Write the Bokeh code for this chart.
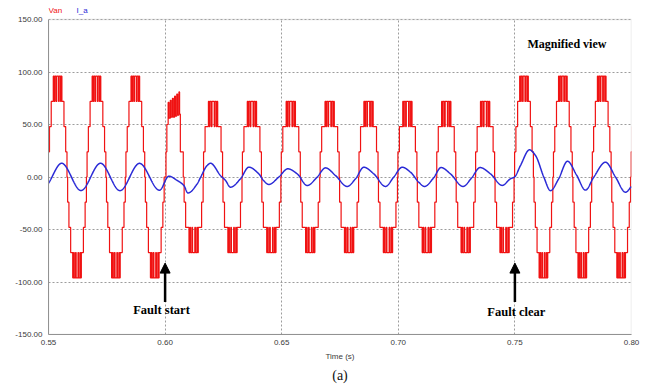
import numpy as np
from bokeh.plotting import figure
from bokeh.models import Label, Arrow, NormalHead, PrintfTickFormatter, BoxAnnotation, Title
from bokeh.embed import file_html
from bokeh.resources import INLINE

# ---- axes ---------------------------------------------------------------
X_TICKS = [0.55, 0.60, 0.65, 0.70, 0.75, 0.80]
Y_TICKS = [-150, -100, -50, 0, 50, 100, 150]

# ---- phase voltage Van (cascaded H-bridge, 24 V per cell) ---------------
F0 = 60.0            # fundamental, Hz
PEAK_T0 = 0.5539     # centre of the first positive half-cycle, s
FAULT_ON = 0.60
FAULT_OFF = 0.75

# healthy operation: (switching angle in deg, level reached) and top PWM band
NORMAL_STEPS = [(3, 24), (15, 48), (31, 72)]
NORMAL_BAND = (72, 96)
NORMAL_BAND_EDGES = [50, 58, 64, 76, 82, 99, 105, 118, 123, 130]

# one cell bypassed during the fault
FAULT_STEPS = [(2, 24), (16, 48)]
FAULT_BAND = (48, 72)
FAULT_BAND_EDGES = [47, 55, 61, 74, 80, 101, 107, 120, 126, 133]

# first half-cycle after the fault: (angle in deg, level reached)
ONSET_EVENTS = [(14, 24), (22, 50), (34, 71), (42, 56), (54, 73), (62, 57),
                (74, 75), (82, 57), (94, 77), (102, 58), (114, 79), (122, 59),
                (134, 81), (140, 60), (147, 24), (174, 0)]

# ---- phase current I_a : read-off points (time s, current A) -----------
I_T = [0.55000, 0.55566, 0.56394, 0.57230, 0.58066, 0.58902, 0.59760,
       0.60159, 0.60519, 0.60802, 0.60982, 0.61376, 0.61539, 0.61805,
       0.61947, 0.62376, 0.62590, 0.62804, 0.63233, 0.63589, 0.64018,
       0.64220, 0.64447, 0.64876, 0.65262, 0.65665, 0.66094, 0.66522,
       0.66878, 0.67307, 0.67809, 0.68165, 0.68521, 0.68950, 0.69451,
       0.69807, 0.70167, 0.70523, 0.70879, 0.71123, 0.71509, 0.71831,
       0.72238, 0.72775, 0.73139, 0.73504, 0.73954, 0.74456, 0.74811,
       0.74983, 0.75240, 0.75626, 0.75883, 0.76239, 0.76527, 0.76870,
       0.77256, 0.77642, 0.78028, 0.78384, 0.78885, 0.79314, 0.79743,
       0.80000]
I_A = [-6.0, 13.1, -12.9, 13.1, -13.0, 13.0, -12.6,
       0.8, -3.3, -8.0, -15.2, -6.5, 0.5, 11.0,
       13.1, 1.4, -3.3, -9.7, -1.7, 9.4, 3.0,
       -3.3, -7.1, 0.0, 7.8, 3.0, -8.1, 0.0,
       8.7, 1.4, -9.0, -1.7, 9.3, 3.0, -9.0,
       0.0, 9.3, 4.6, -5.0, -9.0, -1.0, 9.0,
       3.0, -9.0, -1.0, 9.0, 3.0, -8.0, -1.7,
       0.0, 11.0, 25.9, 20.5, 0.0, -13.0, -2.0,
       15.0, 2.0, -12.5, 0.0, 14.1, 0.0, -14.5,
       -9.0]

RED = "#f01212"
BLUE = "#2a2ad6"
FRAME_GREY = "#b4b4b4"


def lobe_events(steps, band, edges):
    """Switching events of one half-cycle: rising stairs, PWM band, falling stairs."""
    ev = list(steps)
    lo, hi = band
    for i, a in enumerate(edges):
        ev.append((a, hi if i % 2 == 0 else lo))
    below = [0] + [lev for _, lev in steps[:-1]]
    for (a, _), b in zip(reversed(steps), reversed(below)):
        ev.append((180 - a, b))
    return ev


def build_voltage():
    period = 1.0 / F0
    ts, vs = [0.54], [0.0]
    level = 0.0
    onset_done = False
    for k in range(-2, 34):
        tc = PEAK_T0 + k * period / 2
        z0 = tc - period / 4
        sign = 1 if k % 2 == 0 else -1
        if FAULT_ON < tc < FAULT_OFF:
            if not onset_done:
                ev = ONSET_EVENTS
                onset_done = True
            else:
                ev = lobe_events(FAULT_STEPS, FAULT_BAND, FAULT_BAND_EDGES)
        else:
            ev = lobe_events(NORMAL_STEPS, NORMAL_BAND, NORMAL_BAND_EDGES)
        for ang, lev in ev:
            t = z0 + ang / 360.0 * period
            ts += [t, t]
            vs += [level, sign * lev]
            level = sign * lev
    return np.array(ts), np.array(vs)


def smooth_curve(x, y, xs):
    """Monotone cubic (Fritsch-Carlson) curve through the given points."""
    x = np.asarray(x, float)
    y = np.asarray(y, float)
    h = np.diff(x)
    d = np.diff(y) / h
    m = np.zeros_like(y)
    for i in range(1, len(y) - 1):
        if d[i - 1] * d[i] > 0:
            w1 = 2 * h[i] + h[i - 1]
            w2 = h[i] + 2 * h[i - 1]
            m[i] = (w1 + w2) / (w1 / d[i - 1] + w2 / d[i])
    m[0], m[-1] = d[0], d[-1]
    idx = np.clip(np.searchsorted(x, xs) - 1, 0, len(h) - 1)
    s = (xs - x[idx]) / h[idx]
    h00 = 2 * s**3 - 3 * s**2 + 1
    h10 = s**3 - 2 * s**2 + s
    h01 = -2 * s**3 + 3 * s**2
    h11 = s**3 - s**2
    return h00 * y[idx] + h10 * h[idx] * m[idx] + h01 * y[idx + 1] + h11 * h[idx] * m[idx + 1]


van_t, van_v = build_voltage()
ia_t = np.linspace(I_T[0], I_T[-1], 2500)
ia_v = smooth_curve(I_T, I_A, ia_t)

# layout: the plotting box spans y = -150..150 between canvas rows 19 and 334;
# the frame reaches a little higher so the trace names fit above the box
W, H = 649, 389
LEFT, RIGHT, BOTTOM = 48, 18, 55
TOP = 2
PX_PER_UNIT = 315.0 / 300.0
Y_TOP = 150 + (19 - TOP) / PX_PER_UNIT

p = figure(width=W, height=H, x_range=(0.55, 0.80), y_range=(-150, Y_TOP),
           output_backend="svg", toolbar_location=None,
           min_border_left=LEFT, min_border_right=RIGHT, min_border_top=TOP,
           min_border_bottom=BOTTOM)
p.background_fill_color = "white"
p.border_fill_color = "white"
p.outline_line_color = None

for ax in (p.xaxis, p.yaxis):
    ax.major_label_text_font = "Liberation Sans"
    ax.major_label_text_font_size = "8px"
    ax.major_label_text_color = "#3a3a3a"
    ax.major_tick_line_color = None
    ax.minor_tick_line_color = None
    ax.major_tick_in = 0
    ax.major_tick_out = 0
    ax.axis_line_color = "#8c8c8c"
    ax.formatter = PrintfTickFormatter(format="%.2f")
p.xaxis.ticker = X_TICKS
p.yaxis.ticker = Y_TICKS
p.yaxis.bounds = (-150, 150)
p.xaxis.major_label_standoff = 5
p.yaxis.major_label_standoff = 6

p.xaxis.axis_label = "Time (s)"
p.xaxis.axis_label_text_font = "Liberation Sans"
p.xaxis.axis_label_text_font_size = "8px"
p.xaxis.axis_label_text_font_style = "normal"
p.xaxis.axis_label_text_color = "#3a3a3a"
p.xaxis.axis_label_standoff = 4

p.add_layout(Title(text="(a)", align="center", text_font="Liberation Serif",
                   text_font_size="14px", text_font_style="normal",
                   text_color="#111111", standoff=4), "below")

for g in (p.xgrid, p.ygrid):
    g.grid_line_color = "#9c9c9c"
    g.grid_line_dash = "2 2"
    g.grid_line_width = 1

grid_capped = True
try:
    p.xgrid.cross_bounds = (-150, 150)
except Exception:
    grid_capped = False

p.line(x=van_t, y=van_v, line_color=RED, line_width=1.2)
p.line(x=ia_t, y=ia_v, line_color=BLUE, line_width=1.5)

if not grid_capped:
    # blank strip above the box hides the vertical grid there
    p.add_layout(BoxAnnotation(bottom=150, top=Y_TOP, fill_color="white",
                               fill_alpha=1, line_alpha=0))

# plotting box border
p.add_layout(BoxAnnotation(left=0.55, right=0.80, bottom=-150, top=150,
                           fill_alpha=0, line_color=FRAME_GREY, line_width=1.5))

# trace names above the box
LEGEND_Y = 150 + (19 - 10) / PX_PER_UNIT
for xt, txt, col in [(0.5500, "Van", RED), (0.5620, "I_a", BLUE)]:
    p.add_layout(Label(x=xt, y=LEGEND_Y, text=txt, text_color=col,
                       text_font="Liberation Sans", text_font_size="8px",
                       text_baseline="middle", text_align="left"))

# event markers
for xt, yt, txt in [(0.59846, -126.2, "Fault start"), (0.75060, -128.6, "Fault clear")]:
    p.add_layout(Label(x=xt, y=yt, text=txt, text_color="black",
                       text_font="Liberation Serif", text_font_size="12.5px",
                       text_font_style="bold", text_baseline="middle",
                       text_align="center"))
for xa in (0.60, 0.75):
    p.add_layout(Arrow(end=NormalHead(size=10, fill_color="black", line_color="black"),
                       x_start=xa, y_start=-119, x_end=xa, y_end=-82,
                       line_color="black", line_width=2.5))

p.add_layout(Label(x=0.77229, y=126.7, text="Magnified view", text_color="black",
                   text_font="Liberation Serif", text_font_size="12px",
                   text_font_style="bold", text_baseline="middle",
                   text_align="center"))

open("out.html", "w").write(file_html(p, INLINE))
